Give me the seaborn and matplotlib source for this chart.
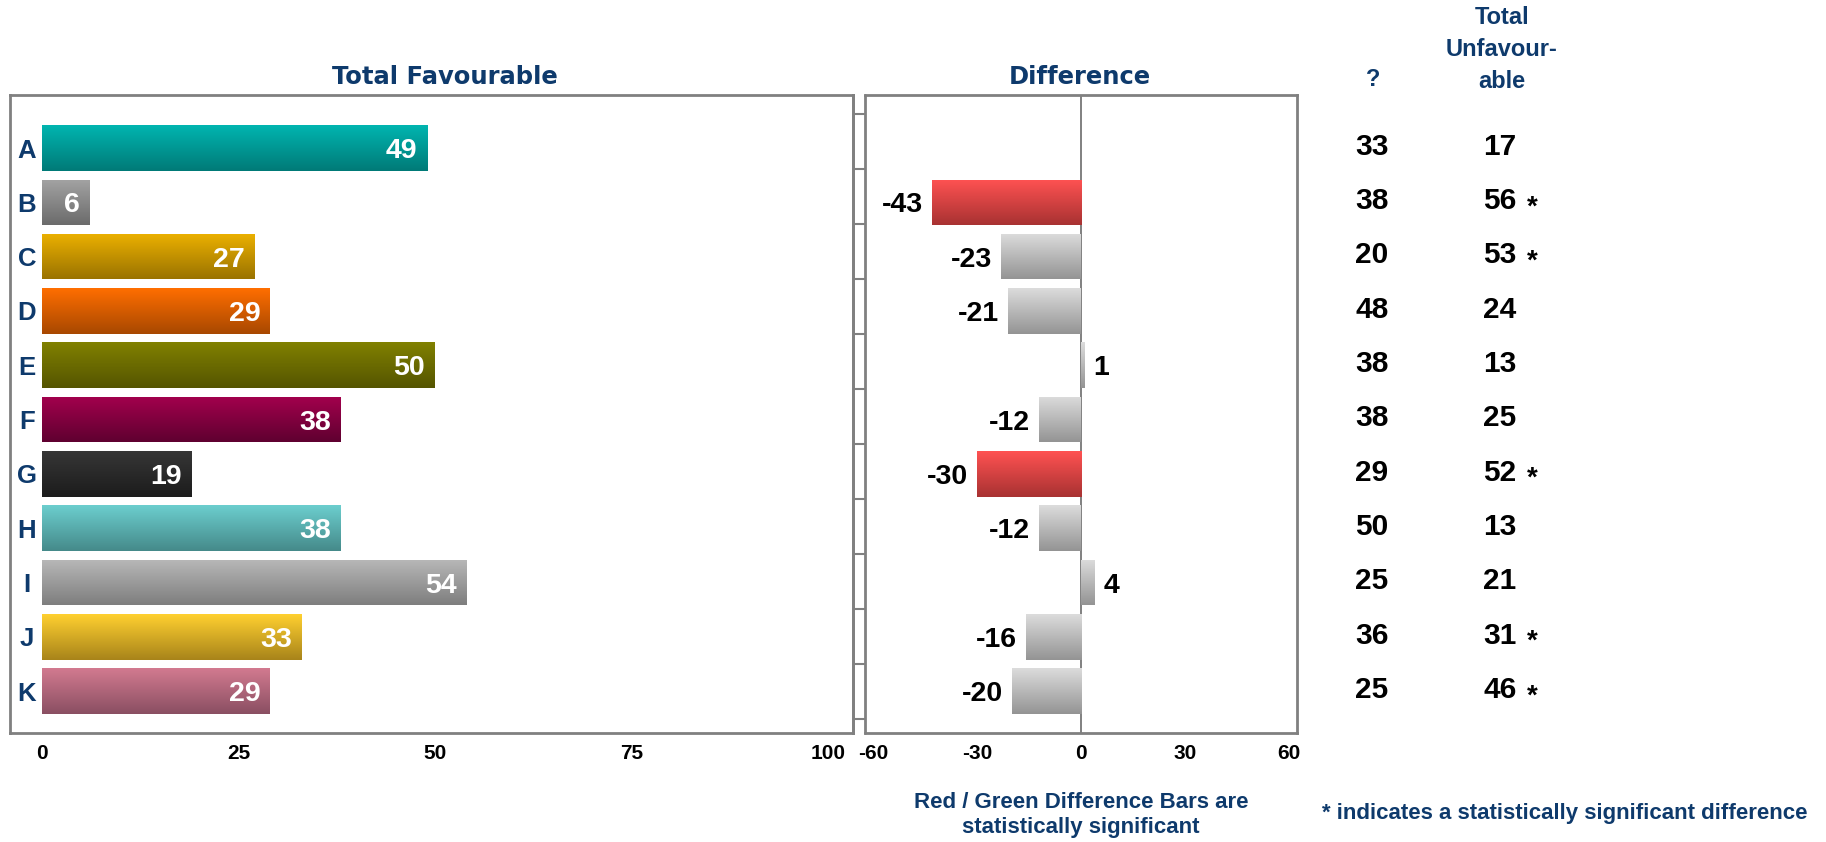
import numpy as np
import pandas as pd
import matplotlib
matplotlib.use("Agg")
import matplotlib.pyplot as plt
import matplotlib.transforms as mtrans
from matplotlib.colors import to_rgb
import seaborn as sns

# ---------------- data ----------------
categories = ["A", "B", "C", "D", "E", "F", "G", "H", "I", "J", "K"]
favourable = [49, 6, 27, 29, 50, 38, 19, 38, 54, 33, 29]
difference = [np.nan, -43, -23, -21, 1, -12, -30, -12, 4, -16, -20]
diff_significant = [False, True, False, False, False, False, True, False, False, False, False]
dont_know = [33, 38, 20, 48, 38, 38, 29, 50, 25, 36, 25]
unfavourable = [17, 56, 53, 24, 13, 25, 52, 13, 21, 31, 46]
unfav_significant = [False, True, True, False, False, False, True, False, False, True, True]
fav_ticks = [0, 25, 50, 75, 100]
diff_ticks = [-60, -30, 0, 30, 60]

# ---------------- styles ----------------
fav_top = ["#00B5B0", "#A3A3A3", "#ECB100", "#FF6E00", "#818100", "#A3004D",
           "#363636", "#6CCECE", "#B8B8B8", "#FFD030", "#D27A90"]
fav_bottom = ["#007A77", "#6B6B6B", "#9A7300", "#A84800", "#545400", "#5F0030",
              "#1C1C1C", "#458A8A", "#7E7E7E", "#A8841A", "#8A4F62"]
sig_top, sig_bottom = "#FF5252", "#A83232"
ns_top, ns_bottom = "#DCDCDC", "#949494"
NAVY = "#0E3A6C"
GRAY = "#808080"

sns.set_theme(style="white")
plt.rcParams["font.family"] = ["Liberation Sans", "DejaVu Sans"]
plt.rcParams["font.weight"] = "bold"

W, H = 1826, 842
fig = plt.figure(figsize=(W / 100, H / 100), dpi=100)


def frac(x0, y0, x1, y1):
    return [x0 / W, 1 - y1 / H, (x1 - x0) / W, (y1 - y0) / H]


ax1 = fig.add_axes(frac(10, 95, 853, 733))
ax2 = fig.add_axes(frac(865, 95, 1297, 733))

df = pd.DataFrame({"cat": categories, "fav": favourable, "diff": difference})


def gradient_fill(ax, patch, top, bottom):
    x0, w = patch.get_x(), patch.get_width()
    y0, h = patch.get_y(), patch.get_height()
    if not np.isfinite(w) or w == 0:
        return
    xa, xb = sorted([x0, x0 + w])
    ya, yb = sorted([y0, y0 + h])
    t = np.linspace(0, 1, 80)[:, None]
    grad = (1 - t) * np.array(to_rgb(top)) + t * np.array(to_rgb(bottom))
    im = ax.imshow(grad[:, None, :], extent=(xa, xb, yb, ya), origin="upper",
                   aspect="auto", interpolation="bilinear",
                   zorder=patch.get_zorder() + 0.1)
    im.set_clip_path(patch)


YLIM = (10.77, -0.976)
NUM_FS = 20.5

# ---------------- left: Total Favourable ----------------
sns.barplot(data=df, x="fav", y="cat", hue="cat", order=categories,
            hue_order=categories, palette=dict(zip(categories, fav_top)),
            legend=False, width=0.84, orient="h", saturation=1,
            errorbar=None, ax=ax1)
for p in list(ax1.patches):
    i = int(round(p.get_y() + p.get_height() / 2))
    gradient_fill(ax1, p, fav_top[i], fav_bottom[i])
    p.set_edgecolor("none")

for i, v in enumerate(favourable):
    ax1.annotate(f"{v}", xy=(v, i), xytext=(-7, 0), textcoords="offset points",
                 ha="right", va="center_baseline", color="white",
                 fontsize=NUM_FS, fontweight="bold", zorder=5)

ytr = ax1.get_yaxis_transform()
for i, c in enumerate(categories):
    ax1.text(0.020, i, c, transform=ytr, ha="center", va="center_baseline",
             color=NAVY, fontsize=18.5, fontweight="bold")

ax1.set_xlim(-4.07, 103.2)
ax1.set_ylim(*YLIM)
ax1.set_xticks(fav_ticks)
ax1.set_xticklabels([str(t) for t in fav_ticks])
ax1.set_yticks([])
ax1.set_xlabel("")
ax1.set_ylabel("")
ax1.tick_params(axis="x", length=0, pad=8, labelsize=15, labelcolor="black")
for lab in ax1.get_xticklabels():
    lab.set_fontweight("bold")
for s in ax1.spines.values():
    s.set_visible(True)
    s.set_color(GRAY)
    s.set_linewidth(2)

# ---------------- middle: Difference ----------------
df2 = df.dropna(subset=["diff"])
diff_top = {c: (sig_top if s else ns_top) for c, s in zip(categories, diff_significant)}
sns.barplot(data=df2, x="diff", y="cat", hue="cat", order=categories,
            hue_order=categories, palette=diff_top, legend=False, width=0.84,
            orient="h", saturation=1, errorbar=None, ax=ax2)
for p in list(ax2.patches):
    if not np.isfinite(p.get_width()):
        continue
    i = int(round(p.get_y() + p.get_height() / 2))
    if diff_significant[i]:
        gradient_fill(ax2, p, sig_top, sig_bottom)
    else:
        gradient_fill(ax2, p, ns_top, ns_bottom)
    p.set_edgecolor("none")

ax2.axvline(0, color=GRAY, lw=1.4, zorder=1)

for i, v in enumerate(difference):
    if not np.isfinite(v):
        continue
    v = int(v)
    off = -6.5 if v < 0 else 6.5
    ax2.annotate(f"{v}", xy=(v, i), xytext=(off, 0), textcoords="offset points",
                 ha="right" if v < 0 else "left", va="center_baseline",
                 color="black", fontsize=NUM_FS, fontweight="bold", zorder=5)

ax2.set_xlim(-62.3, 62.3)
ax2.set_ylim(*YLIM)
ax2.set_xticks(diff_ticks)
ax2.set_xticklabels([str(t) for t in diff_ticks])
ax2.set_yticks(np.linspace(-0.63, 10.52, 12))
ax2.set_yticklabels([])
ax2.set_xlabel("")
ax2.set_ylabel("")
ax2.tick_params(axis="x", length=0, pad=8, labelsize=15, labelcolor="black")
ax2.tick_params(axis="y", left=True, direction="in", length=8.6, width=1.5,
                color=GRAY)
for lab in ax2.get_xticklabels():
    lab.set_fontweight("bold")
for s in ax2.spines.values():
    s.set_visible(True)
    s.set_color(GRAY)
    s.set_linewidth(2)
ax2.spines["left"].set_position(("outward", 8.64))
ax2.plot([0, 0], [0, 1], transform=ax2.transAxes, color=GRAY, lw=2,
         clip_on=False, zorder=6)

# ---------------- titles ----------------
fig.text(445 / W, 1 - 77 / H, "Total Favourable", ha="center", va="center",
         color=NAVY, fontsize=17.5, fontweight="bold", family="DejaVu Sans")
fig.text(1080 / W, 1 - 77 / H, "Difference", ha="center", va="center",
         color=NAVY, fontsize=17.5, fontweight="bold", family="DejaVu Sans")

# ---------------- right columns ----------------
fig.text(1373 / W, 1 - 80 / H, "?", ha="center", va="center", color=NAVY,
         fontsize=17, fontweight="bold")
fig.text(1502 / W, 1 - 49 / H, "Total\nUnfavour-\nable", ha="center",
         va="center", color=NAVY, fontsize=17, fontweight="bold",
         linespacing=1.5)

btr = mtrans.blended_transform_factory(fig.transFigure, ax2.transData)
for i in range(len(categories)):
    ax2.annotate(f"{dont_know[i]}", xy=(1372 / W, i), xycoords=btr,
                 xytext=(0, 3), textcoords="offset points", ha="center",
                 va="center_baseline", fontsize=21.5, fontweight="bold",
                 color="black", annotation_clip=False)
    ax2.annotate(f"{unfavourable[i]}", xy=(1500 / W, i), xycoords=btr,
                 xytext=(0, 3), textcoords="offset points", ha="center",
                 va="center_baseline", fontsize=21.5, fontweight="bold",
                 color="black", annotation_clip=False)
    if unfav_significant[i]:
        ax2.annotate("*", xy=(1532 / W, i), xycoords=btr,
                     xytext=(0, -1.5), textcoords="offset points", ha="center",
                     va="center_baseline", fontsize=20, fontweight="bold",
                     color="black", annotation_clip=False)

# ---------------- footnotes ----------------
fig.text(1081 / W, 1 - 815 / H,
         "Red / Green Difference Bars are\nstatistically significant",
         ha="center", va="center", color=NAVY, fontsize=16, fontweight="bold",
         linespacing=1.25)
fig.text(1565 / W, 1 - 813 / H,
         "* indicates a statistically significant difference",
         ha="center", va="center", color=NAVY, fontsize=16, fontweight="bold")

fig.savefig("out.png", dpi=100, facecolor="white")
